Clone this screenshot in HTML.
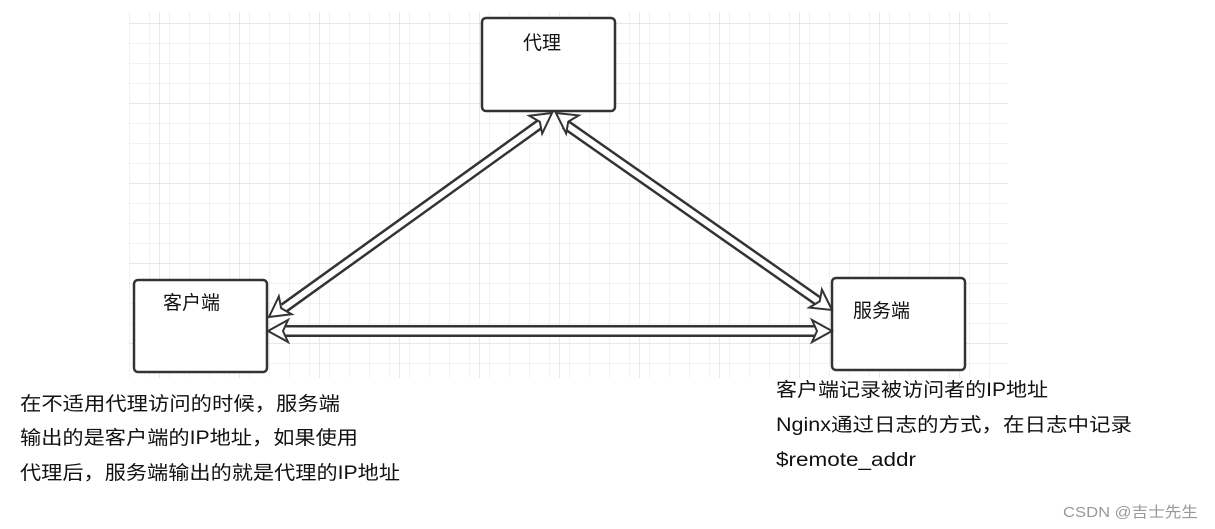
<!DOCTYPE html>
<html><head><meta charset="utf-8"><style>
html,body{margin:0;padding:0;background:#fff;}
svg{display:block;}
text{font-family:"Liberation Sans","Noto Sans CJK SC",sans-serif;fill:#111;}
</style></head><body>
<svg width="1215" height="529" viewBox="0 0 1215 529" xmlns="http://www.w3.org/2000/svg">
<defs>
<pattern id="minor" x="129" y="3" width="20" height="20" patternUnits="userSpaceOnUse">
<path d="M0 0H20M0 0V20" stroke="#e6e6e6" stroke-width="1" fill="none"/>
</pattern>
<pattern id="major" x="159" y="23" width="80" height="80" patternUnits="userSpaceOnUse">
<path d="M0 0H80M0 0V80" stroke="#d9d9d9" stroke-width="1.2" fill="none"/>
</pattern>
</defs>
<rect x="129" y="12" width="879" height="366" fill="url(#minor)"/>
<rect x="129" y="12" width="879" height="366" fill="url(#major)"/>

<rect x="482" y="18" width="133" height="93" rx="4" fill="#fff" stroke="#333" stroke-width="2.5"/>
<rect x="134" y="280" width="133" height="92" rx="4" fill="#fff" stroke="#333" stroke-width="2.5"/>
<rect x="832" y="278" width="133" height="92" rx="4" fill="#fff" stroke="#333" stroke-width="2.5"/>

<g stroke-linecap="butt">
<line x1="540" y1="124" x2="284" y2="308" stroke="#333" stroke-width="11"/>
<line x1="540" y1="124" x2="284" y2="308" stroke="#fff" stroke-width="6"/>
<line x1="565" y1="124" x2="818" y2="301" stroke="#333" stroke-width="11"/>
<line x1="565" y1="124" x2="818" y2="301" stroke="#fff" stroke-width="6"/>
<line x1="282" y1="331" x2="818" y2="331" stroke="#333" stroke-width="12"/>
<line x1="282" y1="331" x2="818" y2="331" stroke="#fff" stroke-width="7"/>
</g>
<g fill="#fff" stroke="#333" stroke-width="2" stroke-linejoin="miter">
<polygon points="0,0 -20,-11 -15,0 -20,11" transform="translate(269,317) rotate(144.3)"/>
<polygon points="0,0 -20,-11 -15,0 -20,11" transform="translate(552,113) rotate(-35.7)"/>
<polygon points="0,0 -20,-11 -15,0 -20,11" transform="translate(556,113) rotate(214.9)"/>
<polygon points="0,0 -20,-11 -15,0 -20,11" transform="translate(832,310) rotate(34.9)"/>
<polygon points="0,0 -20,-11 -15,0 -20,11" transform="translate(268,331) rotate(180)"/>
<polygon points="0,0 -20,-11 -15,0 -20,11" transform="translate(832,331)"/>
</g>

<text x="523" y="49" font-size="19">代理</text>
<text x="163" y="309" font-size="19">客户端</text>
<text x="853" y="317" font-size="19">服务端</text>

<text x="20" y="410" font-size="19" textLength="320" lengthAdjust="spacingAndGlyphs">在不适用代理访问的时候，服务端</text>
<text x="20" y="444" font-size="19" textLength="338" lengthAdjust="spacingAndGlyphs">输出的是客户端的IP地址，如果使用</text>
<text x="20" y="479" font-size="19" textLength="380" lengthAdjust="spacingAndGlyphs">代理后，服务端输出的就是代理的IP地址</text>

<text x="776" y="396" font-size="19" textLength="272" lengthAdjust="spacingAndGlyphs">客户端记录被访问者的IP地址</text>
<text x="776" y="431" font-size="19" textLength="356" lengthAdjust="spacingAndGlyphs">Nginx通过日志的方式，在日志中记录</text>
<text x="776" y="466" font-size="19" textLength="140" lengthAdjust="spacingAndGlyphs">$remote_addr</text>

<text x="1063" y="517" font-size="15" style="fill:#999" textLength="135" lengthAdjust="spacingAndGlyphs">CSDN @吉士先生</text>
</svg>
</body></html>
